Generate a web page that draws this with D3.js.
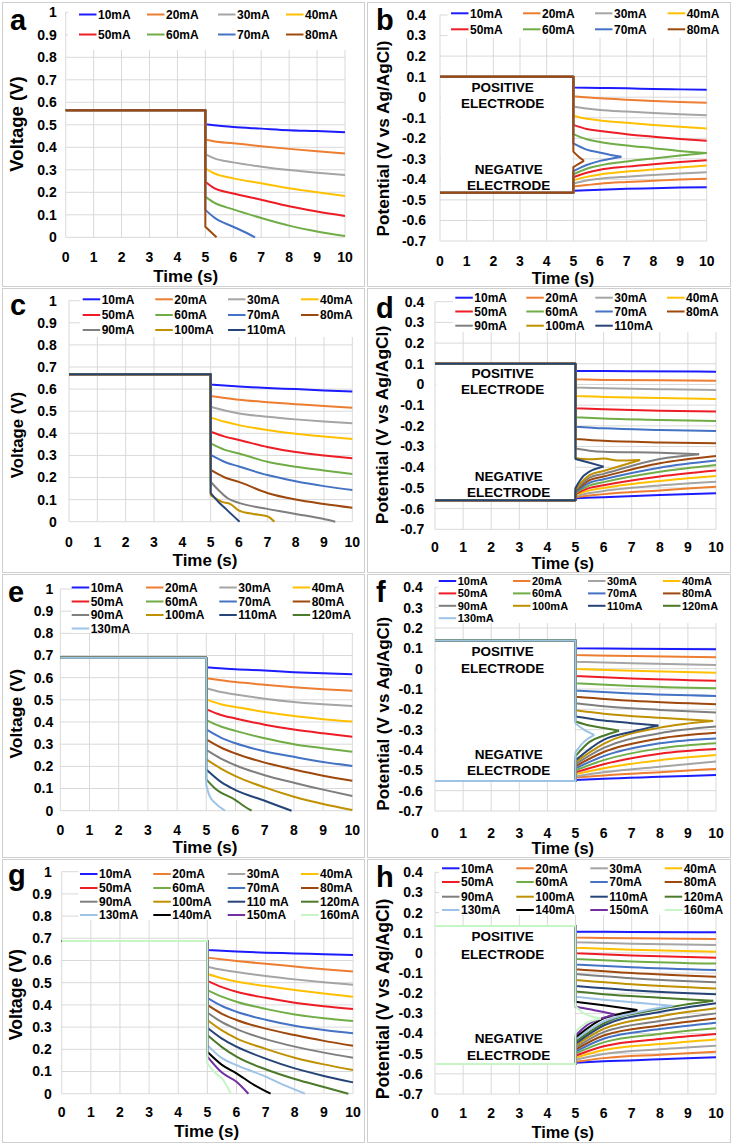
<!DOCTYPE html>
<html><head><meta charset="utf-8">
<script src="https://cdn.jsdelivr.net/npm/d3@7"></script>
<style>
body{margin:0;background:#fff}
text{font-family:"Liberation Sans",Arial,Helvetica,sans-serif;font-weight:bold;fill:#000}
</style>
</head><body><script>
// ---------------- DATA ----------------
const timeTicks = [0,1,2,3,4,5,6,7,8,9,10];
const timeTickLabels = ["0","1","2","3","4","5","6","7","8","9","10"];
const voltTicks = [0,0.1,0.2,0.3,0.4,0.5,0.6,0.7,0.8,0.9,1];
const voltTickLabels = ["0","0.1","0.2","0.3","0.4","0.5","0.6","0.7","0.8","0.9","1"];
const potTicks = [-0.7,-0.6,-0.5,-0.4,-0.3,-0.2,-0.1,0,0.1,0.2,0.3,0.4];
const potTickLabels = ["-0.7","-0.6","-0.5","-0.4","-0.3","-0.2","-0.1","0","0.1","0.2","0.3","0.4"];
const seriesColors = ["#1c1cff","#ed7d31","#a5a5a5","#ffc000","#ee1c25","#70ad47","#4472c4","#9e480e",
                      "#7f7f7f","#bf9000","#264478","#4a7a2a","#9dc3e6","#000000","#7030a0","#c6f5c6"];

// panel a
const aLabels = ["10mA","20mA","30mA","40mA","50mA","60mA","70mA","80mA"];
const aPlateau = 0.565;
const aCurves = [
 [[5,0.502],[6,0.49],[7,0.483],[8,0.476],[9,0.472],[10,0.467]],
 [[5,0.435],[5.3,0.427],[6,0.418],[7,0.405],[8,0.393],[9,0.382],[10,0.372]],
 [[5,0.37],[5.3,0.352],[6,0.333],[7,0.314],[8,0.299],[9,0.287],[10,0.277]],
 [[5,0.307],[5.3,0.285],[6,0.262],[7,0.24],[8,0.218],[9,0.2],[10,0.184]],
 [[5,0.247],[5.3,0.22],[6,0.195],[7,0.167],[8,0.138],[9,0.115],[10,0.095]],
 [[5,0.181],[5.3,0.155],[6,0.124],[7,0.086],[8,0.052],[9,0.026],[10,0.006]],
 [[5,0.122],[5.35,0.085],[6,0.047],[6.5,0.018],[6.78,0]],
 [[5,0.047],[5.4,0]]
];
// panel b
const bLabels = ["10mA","20mA","30mA","40mA","50mA","60mA","70mA","80mA"];
const bPosPlateau = 0.1, bNegPlateau = -0.465;
const bPos = [
 [[5,0.047],[6,0.045],[7,0.043],[8,0.04],[9,0.038],[10,0.036]],
 [[5,0.005],[6,-0.005],[7,-0.012],[8,-0.018],[9,-0.023],[10,-0.027]],
 [[5,-0.045],[5.5,-0.055],[6,-0.062],[7,-0.07],[8,-0.077],[9,-0.083],[10,-0.088]],
 [[5,-0.09],[5.5,-0.105],[6,-0.113],[7,-0.125],[8,-0.135],[9,-0.144],[10,-0.152]],
 [[5,-0.135],[5.5,-0.155],[6,-0.165],[7,-0.18],[8,-0.192],[9,-0.203],[10,-0.212]],
 [[5,-0.18],[5.5,-0.205],[6,-0.218],[7,-0.235],[8,-0.248],[9,-0.262],[10,-0.272]],
 [[5,-0.225],[5.5,-0.255],[6,-0.27],[6.4,-0.281],[6.8,-0.29]],
 [[5,-0.265],[5.2,-0.29],[5.4,-0.31]]
];
const bNeg = [
 [[5,-0.455],[6,-0.45],[7,-0.446],[8,-0.443],[9,-0.44],[10,-0.438]],
 [[5,-0.435],[5.5,-0.428],[6,-0.421],[7,-0.413],[8,-0.407],[9,-0.401],[10,-0.397]],
 [[5,-0.42],[5.5,-0.405],[6,-0.397],[7,-0.387],[8,-0.379],[9,-0.371],[10,-0.365]],
 [[5,-0.405],[5.5,-0.388],[6,-0.376],[7,-0.362],[8,-0.352],[9,-0.342],[10,-0.333]],
 [[5,-0.39],[5.5,-0.368],[6,-0.353],[7,-0.338],[8,-0.326],[9,-0.316],[10,-0.307]],
 [[5,-0.375],[5.5,-0.348],[6,-0.332],[7,-0.313],[8,-0.298],[9,-0.284],[10,-0.272]],
 [[5,-0.36],[5.5,-0.33],[6,-0.31],[6.4,-0.3],[6.8,-0.29]],
 [[5,-0.34],[5.2,-0.325],[5.4,-0.31]]
];
// panel c
const cLabels = ["10mA","20mA","30mA","40mA","50mA","60mA","70mA","80mA","90mA","100mA","110mA"];
const cPlateau = 0.667;
const cCurves = [
 [[5,0.621],[6,0.612],[7,0.605],[8,0.6],[9,0.594],[10,0.589]],
 [[5,0.569],[5.5,0.56],[6,0.552],[7,0.541],[8,0.532],[9,0.523],[10,0.516]],
 [[5,0.52],[5.5,0.503],[6,0.49],[7,0.475],[8,0.463],[9,0.453],[10,0.445]],
 [[5,0.471],[5.5,0.452],[6,0.437],[7,0.415],[8,0.398],[9,0.385],[10,0.374]],
 [[5,0.407],[5.5,0.385],[6,0.37],[7,0.338],[8,0.315],[9,0.3],[10,0.287]],
 [[5,0.354],[5.5,0.325],[6,0.309],[7,0.271],[8,0.249],[9,0.232],[10,0.216]],
 [[5,0.302],[5.5,0.27],[6,0.25],[7,0.211],[8,0.183],[9,0.161],[10,0.143]],
 [[5,0.234],[5.5,0.2],[6,0.18],[7,0.13],[8,0.1],[9,0.08],[10,0.063]],
 [[5,0.181],[5.3,0.14],[5.6,0.106],[6,0.085],[7,0.058],[8,0.035],[9,0.012],[9.4,0]],
 [[5,0.12],[5.4,0.09],[5.7,0.08],[6,0.05],[6.5,0.035],[7,0.025],[7.25,0]],
 [[5,0.13],[5.2,0.1],[5.6,0.05],[6.02,0]]
];
// panel d
const dLabels = ["10mA","20mA","30mA","40mA","50mA","60mA","70mA","80mA","90mA","100mA","110mA"];
const dPosPlateau = 0.1, dNegPlateau = -0.56;
const dPos = [
 [[5,0.065],[7,0.064],[10,0.062]],
 [[5,0.025],[6,0.022],[8,0.02],[10,0.018]],
 [[5,-0.015],[6,-0.018],[8,-0.023],[10,-0.027]],
 [[5,-0.056],[6,-0.06],[8,-0.066],[10,-0.07]],
 [[5,-0.115],[6,-0.12],[8,-0.127],[10,-0.131]],
 [[5,-0.159],[6,-0.165],[8,-0.172],[10,-0.176]],
 [[5,-0.204],[6,-0.212],[8,-0.22],[10,-0.225]],
 [[5,-0.263],[6,-0.272],[8,-0.28],[10,-0.284]],
 [[5,-0.31],[5.5,-0.32],[6,-0.325],[8,-0.33],[9.4,-0.337]],
 [[5,-0.355],[5.5,-0.362],[6,-0.358],[6.5,-0.368],[7.3,-0.365]],
 [[5,-0.36],[5.4,-0.375],[6,-0.397]]
];
const dNeg = [
 [[5,-0.55],[6,-0.545],[8,-0.534],[10,-0.526]],
 [[5,-0.545],[5.5,-0.537],[6,-0.53],[8,-0.512],[10,-0.494]],
 [[5,-0.54],[5.5,-0.525],[6,-0.515],[8,-0.488],[10,-0.47]],
 [[5,-0.535],[5.5,-0.512],[6,-0.5],[8,-0.466],[10,-0.442]],
 [[5,-0.53],[5.5,-0.5],[6,-0.487],[8,-0.445],[10,-0.416]],
 [[5,-0.525],[5.5,-0.488],[6,-0.472],[8,-0.422],[10,-0.389]],
 [[5,-0.52],[5.5,-0.475],[6,-0.458],[8,-0.402],[10,-0.368]],
 [[5,-0.515],[5.5,-0.462],[6,-0.445],[8,-0.381],[10,-0.346]],
 [[5,-0.51],[5.5,-0.45],[6,-0.432],[8,-0.36],[9.4,-0.337]],
 [[5,-0.505],[5.5,-0.438],[6,-0.418],[7.3,-0.365]],
 [[5,-0.5],[5.3,-0.44],[6,-0.397]]
];
// panel e
const eLabels = ["10mA","20mA","30mA","40mA","50mA","60mA","70mA","80mA","90mA","100mA","110mA","120mA","130mA"];
const ePlateau = 0.69;
const eCurves = [
 [[5,0.647],[6,0.638],[7,0.632],[8,0.625],[9,0.62],[10,0.615]],
 [[5,0.597],[6,0.58],[7,0.568],[8,0.557],[9,0.548],[10,0.541]],
 [[5,0.552],[5.5,0.535],[6,0.524],[7,0.505],[8,0.49],[9,0.48],[10,0.472]],
 [[5,0.502],[5.5,0.48],[6,0.468],[7,0.445],[8,0.427],[9,0.413],[10,0.402]],
 [[5,0.457],[5.5,0.432],[6,0.416],[7,0.388],[8,0.366],[9,0.349],[10,0.334]],
 [[5,0.409],[5.5,0.38],[6,0.36],[7,0.327],[8,0.3],[9,0.282],[10,0.266]],
 [[5,0.367],[5.5,0.33],[6,0.304],[7,0.268],[8,0.243],[9,0.22],[10,0.202]],
 [[5,0.322],[5.5,0.285],[6,0.258],[7,0.217],[8,0.186],[9,0.158],[10,0.135]],
 [[5,0.274],[5.5,0.235],[6,0.205],[7,0.16],[8,0.126],[9,0.095],[10,0.066]],
 [[5,0.232],[5.5,0.19],[6,0.156],[7,0.105],[8,0.063],[9,0.03],[10,0.003]],
 [[5,0.186],[5.5,0.13],[6,0.093],[7,0.045],[7.5,0.02],[7.92,0]],
 [[5,0.141],[5.3,0.1],[6,0.048],[6.3,0.02],[6.55,0]],
 [[5,0.116],[5.1,0.07],[5.3,0.035],[5.64,0]]
];
// panel f
const fLabels = ["10mA","20mA","30mA","40mA","50mA","60mA","70mA","80mA","90mA","100mA","110mA","120mA","130mA"];
const fPosPlateau = 0.138, fNegPlateau = -0.552;
const fPos = [
 [[5,0.1],[7,0.098],[10,0.095]],
 [[5,0.067],[7,0.062],[10,0.056]],
 [[5,0.034],[7,0.026],[10,0.018]],
 [[5,-0.002],[7,-0.01],[10,-0.02]],
 [[5,-0.036],[7,-0.048],[10,-0.059]],
 [[5,-0.072],[7,-0.085],[10,-0.097]],
 [[5,-0.108],[7,-0.122],[10,-0.134]],
 [[5,-0.138],[7,-0.158],[10,-0.175]],
 [[5,-0.17],[6,-0.185],[8,-0.203],[10,-0.216]],
 [[5,-0.205],[6,-0.222],[8,-0.242],[9.9,-0.257]],
 [[5,-0.235],[6,-0.255],[7,-0.268],[7.95,-0.28]],
 [[5,-0.26],[5.5,-0.28],[6,-0.292],[6.55,-0.305]],
 [[5,-0.27],[5.3,-0.3],[5.67,-0.326]]
];
const fNeg = [
 [[5,-0.548],[6,-0.541],[8,-0.532],[10,-0.523]],
 [[5,-0.535],[6,-0.525],[8,-0.51],[10,-0.493]],
 [[5,-0.53],[6,-0.51],[8,-0.482],[10,-0.457]],
 [[5,-0.52],[6,-0.49],[8,-0.45],[10,-0.425]],
 [[5,-0.51],[6,-0.47],[8,-0.418],[10,-0.395]],
 [[5,-0.5],[6,-0.45],[8,-0.392],[10,-0.367]],
 [[5,-0.49],[6,-0.43],[8,-0.367],[10,-0.343]],
 [[5,-0.48],[6,-0.41],[8,-0.343],[10,-0.315]],
 [[5,-0.47],[6,-0.39],[8,-0.318],[10,-0.285]],
 [[5,-0.46],[6,-0.37],[8,-0.29],[9.9,-0.257]],
 [[5,-0.45],[6,-0.35],[7,-0.31],[7.95,-0.28]],
 [[5,-0.43],[5.5,-0.36],[6,-0.33],[6.55,-0.305]],
 [[5,-0.41],[5.3,-0.36],[5.67,-0.326]]
];
// panel g
const gLabels = ["10mA","20mA","30mA","40mA","50mA","60mA","70mA","80mA","90mA","100mA","110 mA","120mA","130mA","140mA","150mA","160mA"];
const gPlateau = 0.688;
const gCurves = [
 [[5,0.647],[6,0.64],[7,0.635],[8,0.632],[9,0.628],[10,0.625]],
 [[5,0.613],[6,0.598],[7,0.585],[8,0.573],[9,0.561],[10,0.551]],
 [[5,0.572],[5.5,0.558],[6,0.548],[7,0.53],[8,0.515],[9,0.502],[10,0.491]],
 [[5,0.539],[5.5,0.52],[6,0.505],[7,0.485],[8,0.467],[9,0.451],[10,0.437]],
 [[5,0.508],[5.5,0.48],[6,0.459],[7,0.432],[8,0.41],[9,0.394],[10,0.381]],
 [[5,0.467],[5.5,0.437],[6,0.414],[7,0.382],[8,0.357],[9,0.34],[10,0.327]],
 [[5,0.432],[5.5,0.395],[6,0.369],[7,0.333],[8,0.306],[9,0.287],[10,0.272]],
 [[5,0.4],[5.5,0.36],[6,0.332],[7,0.293],[8,0.264],[9,0.238],[10,0.216]],
 [[5,0.366],[5.5,0.322],[6,0.291],[7,0.246],[8,0.212],[9,0.185],[10,0.162]],
 [[5,0.332],[5.5,0.285],[6,0.249],[7,0.202],[8,0.162],[9,0.132],[10,0.107]],
 [[5,0.297],[5.5,0.248],[6,0.212],[7,0.158],[8,0.114],[9,0.08],[10,0.051]],
 [[5,0.264],[5.5,0.21],[6,0.167],[7,0.11],[8,0.066],[9,0.03],[9.84,0]],
 [[5,0.219],[5.5,0.16],[6,0.129],[7,0.077],[7.7,0.035],[8.35,0]],
 [[5,0.189],[5.5,0.13],[6,0.092],[6.6,0.04],[7.17,0]],
 [[5,0.167],[5.5,0.095],[6,0.054],[6.41,0]],
 [[5,0.137],[5.3,0.09],[5.5,0.069],[5.81,0]]
];
// panel h
const hLabels = ["10mA","20mA","30mA","40mA","50mA","60mA","70mA","80mA","90mA","100mA","110mA","120mA","130mA","140mA","150mA","160mA"];
const hPosPlateau = 0.134, hNegPlateau = -0.551;
const hPos = [
 [[5,0.105],[7,0.104],[10,0.102]],
 [[5,0.076],[7,0.073],[10,0.069]],
 [[5,0.053],[7,0.046],[10,0.039]],
 [[5,0.026],[7,0.016],[10,0.006]],
 [[5,-0.002],[7,-0.013],[10,-0.024]],
 [[5,-0.03],[7,-0.042],[10,-0.053]],
 [[5,-0.057],[7,-0.071],[10,-0.085]],
 [[5,-0.081],[7,-0.1],[10,-0.118]],
 [[5,-0.105],[7,-0.126],[10,-0.146]],
 [[5,-0.134],[7,-0.155],[10,-0.176]],
 [[5,-0.164],[7,-0.185],[10,-0.205]],
 [[5,-0.192],[6,-0.205],[8,-0.222],[9.9,-0.237]],
 [[5,-0.217],[6,-0.232],[7,-0.245],[8.45,-0.262]],
 [[5,-0.242],[6,-0.26],[7.2,-0.283]],
 [[5,-0.267],[5.5,-0.28],[6,-0.293],[6.4,-0.305]],
 [[5,-0.265],[5.3,-0.3],[5.9,-0.325]]
];
const hNeg = [
 [[5,-0.545],[6,-0.538],[8,-0.528],[10,-0.518]],
 [[5,-0.54],[6,-0.522],[8,-0.505],[10,-0.49]],
 [[5,-0.53],[6,-0.502],[8,-0.478],[10,-0.46]],
 [[5,-0.52],[6,-0.482],[8,-0.452],[10,-0.429]],
 [[5,-0.51],[6,-0.463],[8,-0.427],[10,-0.402]],
 [[5,-0.5],[6,-0.444],[8,-0.402],[10,-0.374]],
 [[5,-0.49],[6,-0.426],[8,-0.378],[10,-0.346]],
 [[5,-0.48],[6,-0.41],[8,-0.36],[10,-0.325]],
 [[5,-0.47],[6,-0.393],[8,-0.338],[10,-0.3]],
 [[5,-0.46],[6,-0.377],[8,-0.315],[10,-0.275]],
 [[5,-0.45],[6,-0.36],[8,-0.293],[10,-0.25]],
 [[5,-0.44],[6,-0.35],[8,-0.278],[9.9,-0.237]],
 [[5,-0.43],[6,-0.34],[7,-0.3],[8.45,-0.262]],
 [[5,-0.42],[6,-0.325],[6.6,-0.302],[7.2,-0.283]],
 [[5,-0.41],[5.5,-0.35],[6,-0.322],[6.4,-0.305]],
 [[5,-0.39],[5.3,-0.355],[5.9,-0.325]]
];

// ---------------- LAYOUT ----------------
const panels = [
 {letter:"a", kind:"V", box:[2,2,364,286], x0:65.7, x1:345, yT:12.3, yB:237.3,
  labels:aLabels, plateau:aPlateau, curves:aCurves, letterPos:[10,30],
  leg:{tx:[98,166,237,305], rows:[14.5,34.5], bx:68, bb:50, fs:12},
  yt:{x:16.7, y:124, s:18.5}, ytr:56.7, xtb:262, xt:{x:185.7,y:282,s:17}},
 {letter:"b", kind:"P", box:[367,2,730,286], x0:440, x1:706.7, yT:15, yB:241,
  labels:bLabels, pp:bPosPlateau, np:bNegPlateau, pos:bPos, neg:bNeg, letterPos:[376,30],
  leg:{tx:[470,542,614,686.7], rows:[13.3,29.3], bx:447.7, bb:38, fs:12},
  yt:{x:382.7, y:138.5, s:17.2}, ytr:426, xtb:266, xt:{x:563,y:284,s:16.4},
  el:[[502.7,87.3],[502.7,103.3],[508.7,169.3],[508.7,185]]},
 {letter:"c", kind:"V", box:[2,288,364,572], x0:69, x1:352.3, yT:300.7, yB:521.7,
  labels:cLabels, plateau:cPlateau, curves:cCurves, letterPos:[10,315],
  leg:{tx:[101.7,174.3,247,320], rows:[299.3,315,330], bx:80, bb:337, fs:12},
  yt:{x:16.7, y:435, s:16.8}, ytr:56.7, xtb:547.3, xt:{x:205,y:566,s:17}},
 {letter:"d", kind:"P", box:[367,288,730,572], x0:435, x1:716, yT:301.7, yB:529.3,
  labels:dLabels, pp:dPosPlateau, np:dNegPlateau, pos:dPos, neg:dNeg, letterPos:[376,318],
  leg:{tx:[474.3,545.3,614.3,686], rows:[297.7,311.5,325.7], bx:453, bb:332, fs:12},
  yt:{x:382, y:425, s:17.4}, ytr:424.3, xtb:552, xt:{x:562.7,y:569,s:16.4},
  el:[[502.7,373.3],[502.7,389],[508.7,476],[508.7,492.3]]},
 {letter:"e", kind:"V", box:[2,574,364,857], x0:60.3, x1:352.3, yT:589, yB:810.7,
  labels:eLabels, plateau:ePlateau, curves:eCurves, letterPos:[8,601.7],
  leg:{tx:[90.7,165,238.3,311.7], rows:[587.5,601.5,615,628.5], bx:71.7, bb:633, fs:12},
  yt:{x:16, y:713.7, s:17.4}, ytr:53.3, xtb:835, xt:{x:205,y:853.3,s:17}},
 {letter:"f", kind:"P", box:[367,574,730,857], x0:435, x1:716, yT:587.3, yB:811,
  labels:fLabels, pp:fPosPlateau, np:fNegPlateau, pos:fPos, neg:fNeg, letterPos:[376,601.7],
  leg:{tx:[457.7,532,607,682], rows:[581,593.4,605.8,618.2], bx:437.7, bb:623, fs:11},
  yt:{x:382.7, y:713.7, s:17}, ytr:422.7, xtb:838, xt:{x:562.7,y:854,s:16.4},
  el:[[502.7,651.7],[502.7,668.3],[508.7,754],[508.7,770]]},
 {letter:"g", kind:"V", box:[2,859,364,1142], x0:61.7, x1:353, yT:871.7, yB:1093.7,
  labels:gLabels, plateau:gPlateau, curves:gCurves, letterPos:[8,885],
  leg:{tx:[99,172.3,246.7,320], rows:[874,888,901.7,915], bx:78.3, bb:920, fs:12},
  yt:{x:16, y:994.7, s:17.7}, ytr:51.7, xtb:1117.3, xt:{x:206.7,y:1137,s:17}},
 {letter:"h", kind:"P", box:[367,859,730,1142], x0:435, x1:716, yT:872.3, yB:1094,
  labels:hLabels, pp:hPosPlateau, np:hNegPlateau, pos:hPos, neg:hNeg, letterPos:[376,886.7],
  leg:{tx:[461,535.3,609.3,683.7], rows:[868.3,882,896.7,910], bx:439, bb:915, fs:12},
  yt:{x:382.7, y:999, s:17.6}, ytr:422.7, xtb:1118, xt:{x:562.7,y:1137.5,s:16.4},
  el:[[502.7,936.7],[502.7,954],[508.7,1038.3],[508.7,1055]]}
];

const svg = d3.select("body").append("svg").attr("width",733).attr("height",1144);
const gridColor = "#d9d9d9";

panels.forEach(p => {
  const g = svg.append("g");
  g.append("rect").attr("x",p.box[0]+0.5).attr("y",p.box[1]+0.5)
    .attr("width",p.box[2]-p.box[0]).attr("height",p.box[3]-p.box[1])
    .attr("fill","#fff").attr("stroke","#cfcfcf").attr("stroke-width",1);

  const isV = p.kind === "V";
  const x = d3.scaleLinear().domain([0,10]).range([p.x0,p.x1]);
  const y = isV ? d3.scaleLinear().domain([0,1]).range([p.yB,p.yT])
                : d3.scaleLinear().domain([-0.7,0.4]).range([p.yB,p.yT]);
  const yTicks = isV ? voltTicks : potTicks;
  const yLabels = isV ? voltTickLabels : potTickLabels;

  // gridlines
  g.append("g").selectAll("line").data(yTicks).join("line")
    .attr("x1",p.x0).attr("x2",p.x1).attr("y1",d=>y(d)).attr("y2",d=>y(d))
    .attr("stroke",gridColor).attr("stroke-width",1);
  g.append("g").selectAll("line").data(timeTicks).join("line")
    .attr("x1",d=>x(d)).attr("x2",d=>x(d)).attr("y1",p.yT).attr("y2",p.yB)
    .attr("stroke",gridColor).attr("stroke-width",1);

  // tick labels
  g.append("g").selectAll("text").data(yTicks).join("text")
    .attr("x",p.ytr).attr("y",d=>y(d)).attr("dy","0.35em")
    .attr("text-anchor","end").attr("font-size",14)
    .text((d,i)=>yLabels[i]);
  g.append("g").selectAll("text").data(timeTicks).join("text")
    .attr("x",d=>x(d)).attr("y",p.xtb).attr("text-anchor","middle").attr("font-size",14)
    .text((d,i)=>timeTickLabels[i]);

  // axis titles
  g.append("text").attr("transform",`translate(${p.yt.x},${p.yt.y}) rotate(-90)`)
    .attr("text-anchor","middle").attr("dy","0.35em").attr("font-size",p.yt.s)
    .text(isV ? "Voltage (V)" : "Potential (V vs Ag/AgCl)");
  g.append("text").attr("x",p.xt.x).attr("y",p.xt.y).attr("text-anchor","middle")
    .attr("font-size",p.xt.s).text("Time (s)");

  // panel letter
  g.append("text").attr("x",p.letterPos[0]).attr("y",p.letterPos[1])
    .attr("font-size",29).text(p.letter);

  // legend background
  g.append("rect").attr("x",p.leg.bx).attr("y",p.yT-6)
    .attr("width",p.x1+3-p.leg.bx).attr("height",p.leg.bb-(p.yT-6)).attr("fill","#fff");

  const lineL = d3.line().x(d=>x(d[0])).y(d=>y(d[1]));
  const lineS = d3.line().x(d=>x(d[0])).y(d=>y(d[1])).curve(d3.curveMonotoneX);
  // plateau + vertical step drawn straight, decay part smoothed
  const seriesPath = (level, c) =>
    lineL([[0,level],[5,level],c[0]]) + lineS(c).replace(/^M/,"L");
  const drawSeries = (d, col) =>
    g.append("path").attr("d",d).attr("fill","none").attr("stroke",col)
      .attr("stroke-width",2).attr("stroke-linejoin","round");

  if (isV) {
    p.curves.forEach((c,i) => drawSeries(seriesPath(p.plateau,c), seriesColors[i]));
  } else {
    // white box behind electrode labels
    g.append("rect").attr("x",x(0)+1).attr("y",y(p.pp)+1)
      .attr("width",x(5)-x(0)-2).attr("height",y(p.np)-y(p.pp)-2).attr("fill","#fff");
    const elTexts = ["POSITIVE","ELECTRODE","NEGATIVE","ELECTRODE"];
    p.el.forEach((pos,i)=>{
      g.append("text").attr("x",pos[0]).attr("y",pos[1]).attr("dy","0.35em")
        .attr("text-anchor","middle").attr("font-size",13.5).text(elTexts[i]);
    });
    p.pos.forEach((c,i) => {
      drawSeries(seriesPath(p.pp,c), seriesColors[i]);
      drawSeries(seriesPath(p.np,p.neg[i]), seriesColors[i]);
    });
  }

  // legend
  p.labels.forEach((lab,i)=>{
    const col = i%4, row = Math.floor(i/4);
    const tx = p.leg.tx[col], ry = p.leg.rows[row];
    g.append("line").attr("x1",tx-19).attr("x2",tx-1.5).attr("y1",ry).attr("y2",ry)
      .attr("stroke",seriesColors[i]).attr("stroke-width",2);
    g.append("text").attr("x",tx).attr("y",ry).attr("dy","0.36em")
      .attr("font-size",p.leg.fs).text(lab);
  });
});
</script></body></html>
